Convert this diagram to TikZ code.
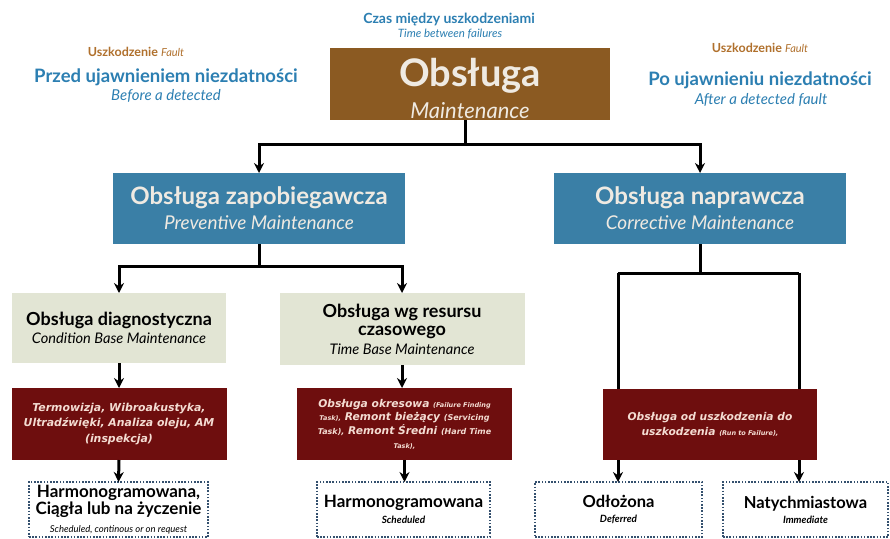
\documentclass[tikz,border=0pt]{standalone}
\usepackage{fontspec}
\setmainfont{Lato}
\newfontfamily\widefont{DejaVu Sans}
\usetikzlibrary{arrows.meta,calc}
\definecolor{brownbox}{HTML}{8B5A22}
\definecolor{bluebox}{HTML}{3A7FA6}
\definecolor{beigebox}{HTML}{E2E5D4}
\definecolor{redbox}{HTML}{6E0E0E}
\definecolor{bluetxt}{HTML}{2C7FB2}
\definecolor{orangetxt}{HTML}{B0702C}
\definecolor{dotcol}{HTML}{34506E}
\definecolor{pinktxt}{HTML}{F4DCD2}
\definecolor{lighttxt}{HTML}{EFEAE2}
\newcommand{\fsz}[2]{\fontsize{#1}{#2}\selectfont}
\begin{document}
\begin{tikzpicture}[x=1pt,y=-1pt,
  base/.style={inner sep=0pt, outer sep=0pt, align=center},
  topbox/.style={base, fill=brownbox, text=lighttxt},
  bluebx/.style={base, fill=bluebox, text=lighttxt, minimum width=292pt, minimum height=71pt},
  beigebx/.style={base, fill=beigebox, text=black},
  redbx/.style={base, fill=redbox, text=pinktxt, minimum width=215pt, minimum height=72pt},
  dotbx/.style={base, draw=dotcol, line width=1.3pt, dash pattern=on 1.6pt off 1.6pt, minimum height=55pt, text=black},
  lbl/.style={base},
  conn/.style={line width=3pt, black},
  arr/.style={conn, -{Stealth[length=10pt,width=10pt]}}
]
\fill[white] (0,0) rectangle (890,538);

% header texts
\node[lbl, text=bluetxt, font=\fsz{14}{16}\bfseries] (czas) at (449,20) {Czas między uszkodzeniami};
\node[lbl, text=bluetxt, font=\fsz{11.5}{13}\itshape] (tbf) at (450,34) {Time between failures};
\node[lbl, text=orangetxt, font=\fsz{12.5}{14}\bfseries] (uszL) at (136,52) {Uszkodzenie {\mdseries\itshape\fsz{11}{13}Fault}};
\node[lbl, text=bluetxt, font=\fsz{18.5}{20}\bfseries] (przed) at (166,77) {Przed ujawnieniem niezdatności};
\node[lbl, text=bluetxt, font=\fsz{15}{17}\itshape] (before) at (166,96) {Before a detected};
\node[lbl, text=orangetxt, font=\fsz{12.5}{14}\bfseries] (uszR) at (760,48) {Uszkodzenie {\mdseries\itshape\fsz{11}{13}Fault}};
\node[lbl, text=bluetxt, font=\fsz{18.5}{20}\bfseries] (po) at (760,80) {Po ujawnieniu niezdatności};
\node[lbl, text=bluetxt, font=\fsz{15}{17}\itshape] (after) at (761,100) {After a detected fault};

% main boxes
\node[topbox, minimum width=280pt, minimum height=72pt] (top) at (470,84) {};
\node[lbl, text=lighttxt, font=\fsz{38}{32}] (toptxt) at (470,88)
  {\bfseries Obsługa\\\fsz{22}{24}\itshape Maintenance};
\node[bluebx, font=\fsz{24}{25}] (prev) at (259,208.5)
  {\bfseries Obsługa zapobiegawcza\\\fsz{19}{21}\itshape Preventive Maintenance};
\node[bluebx, font=\fsz{24}{25}] (corr) at (700,208.5)
  {\bfseries Obsługa naprawcza\\\fsz{19}{21}\itshape Corrective Maintenance};

\node[beigebx, minimum width=214pt, minimum height=70pt, font=\fsz{18}{18.5}] (diag) at (119,328)
  {\bfseries Obsługa diagnostyczna\\\fsz{14.6}{16}\itshape Condition Base Maintenance};
\node[beigebx, minimum width=245pt, minimum height=72pt, font=\fsz{18}{18.5}] (time) at (402,329)
  {\bfseries Obsługa wg resursu\\\bfseries czasowego\\\fsz{14.6}{16}\itshape Time Base Maintenance};

\node[redbx, font=\widefont\fsz{10.9}{15.5}\bfseries\itshape] (red1) at (119,424)
  {Termowizja, Wibroakustyka,\\Ultradźwięki, Analiza oleju, AM\\(inspekcja)};
\node[redbx, font=\widefont\fsz{10.7}{13.7}\bfseries\itshape] (red2) at (404.5,424)
  {Obsługa okresowa {\fsz{6.5}{8}(Failure Finding}\\
   {\fsz{6.5}{8}Task),} Remont bieżący {\fsz{8}{9}(Servicing}\\
   {\fsz{8}{9}Task),} Remont Średni {\fsz{8}{9}(Hard Time}\\
   {\fsz{6.5}{8}Task),}};
\node[redbx, minimum width=214pt, minimum height=71pt, font=\widefont\fsz{10.7}{15}\bfseries\itshape] (red3) at (710,424.5)
  {Obsługa od uszkodzenia do\\uszkodzenia {\fsz{6.5}{8}(Run to Failure),}};

\node[dotbx, minimum width=179pt, font=\fsz{17}{17.5}] (dot1) at (118.5,509.5)
  {\bfseries Harmonogramowana,\\\bfseries Ciągła lub na życzenie\\\fsz{9.5}{10}\itshape Scheduled, continous or on request};
\node[dotbx, minimum width=173pt, font=\fsz{17}{15.5}] (dot2) at (403.5,509.5)
  {\bfseries Harmonogramowana\\\fsz{10}{11}\bfseries\itshape Scheduled};
\node[dotbx, minimum width=167pt, font=\fsz{16.5}{15}] (dot3) at (618.5,509.5)
  {\bfseries Odłożona\\\fsz{10}{11}\bfseries\itshape Deferred};
\node[dotbx, minimum width=165pt, font=\fsz{16.5}{15}] (dot4) at (805.5,509.5)
  {\bfseries Natychmiastowa\\\fsz{10}{11}\bfseries\itshape Immediate};

% connectors
\coordinate (j1) at (465,144);
\draw[conn] (top.south -| j1) -- (j1);
\draw[arr] (j1) -| (prev.north);
\draw[arr] (j1) -| (corr.north);

\coordinate (j2) at (259,266);
\draw[conn] (prev.south) -- (j2);
\draw[arr] (j2) -| (diag.north);
\draw[arr] (j2) -| (time.north);

\draw[arr] (diag.south) -- (red1.north);
\draw[arr] (time.south) -- (time.south |- red2.north);
\draw[arr] (red1.south) -- (dot1.north);
\draw[arr] (red2.south) -- (red2.south |- dot2.north);

\coordinate (j3) at (700,273);
\coordinate (cL) at (618,273);
\coordinate (cR) at (799,273);
\draw[conn] (corr.south) -- (j3);
\draw[conn] (cL) -- (cR);
\draw[conn] (cL) -- (cL |- red3.north);
\draw[conn] (cR) -- (cR |- red3.north);
\draw[arr] (cL |- red3.south) -- (cL |- dot3.north);
\draw[arr] (cR |- red3.south) -- (cR |- dot4.north);
\end{tikzpicture}
\end{document}
